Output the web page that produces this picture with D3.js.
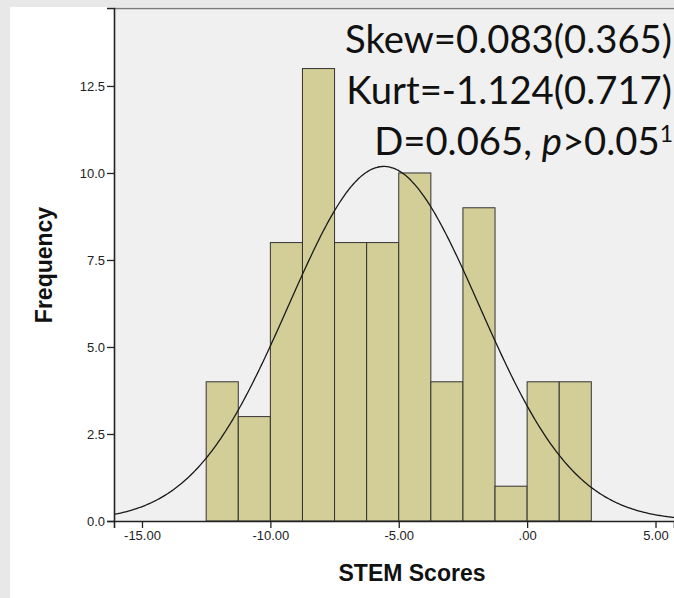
<!DOCTYPE html>
<html>
<head>
<meta charset="utf-8">
<script src="https://cdn.jsdelivr.net/npm/d3@7"></script>
<style>
  html, body { margin: 0; padding: 0; background: #e8e8e8; overflow: hidden; }
</style>
</head>
<body>
<div id="chart"></div>
<script>
// histogram bins (lower edges, width 1.25) and their counts
const binStarts = [-12.5, -11.25, -10, -8.75, -7.5, -6.25, -5, -3.75, -2.5, -1.25, 0, 1.25];
const binWidth = 1.25;
const counts = [4, 3, 8, 13, 8, 8, 10, 4, 9, 1, 4, 4];

// fitted normal curve
const mean = -5.58;
const sd = 3.72;

const xTicks = [-15, -10, -5, 0, 5];
const yTicks = [0, 2.5, 5, 7.5, 10, 12.5];
const statLines = ["Skew=0.083(0.365)", "Kurt=-1.124(0.717)"];

const width = 674, height = 598;
const plot = { left: 114, top: 8, right: 674, bottom: 521 };

const svg = d3.select("#chart").append("svg")
    .attr("width", width)
    .attr("height", height)
    .style("display", "block");

// page and panel backgrounds
svg.append("rect").attr("width", width).attr("height", height).attr("fill", "#e8e8e8");
svg.append("rect").attr("x", 10).attr("y", 7).attr("width", width - 10).attr("height", height - 7).attr("fill", "#ffffff");
svg.append("rect")
    .attr("x", plot.left).attr("y", plot.top)
    .attr("width", plot.right - plot.left).attr("height", plot.bottom - plot.top)
    .attr("fill", "#f0f0f0");
svg.append("line")
    .attr("x1", plot.left).attr("x2", plot.right)
    .attr("y1", plot.top + 0.5).attr("y2", plot.top + 0.5)
    .attr("stroke", "#7a7a7a").attr("stroke-width", 1.6);

const x = d3.scaleLinear().domain([-16.09, 5.72]).range([plot.left, plot.right]);
const y = d3.scaleLinear().domain([0, 14.74]).range([plot.bottom, plot.top]);

// bars
svg.append("g").selectAll("rect")
    .data(counts)
    .enter()
    .append("rect")
    .attr("x", (d, i) => x(binStarts[i]))
    .attr("y", d => y(d))
    .attr("width", (d, i) => x(binStarts[i] + binWidth) - x(binStarts[i]))
    .attr("height", d => y(0) - y(d))
    .attr("fill", "#d3ce97")
    .attr("stroke", "#333")
    .attr("stroke-width", 1);

// normal curve scaled to the histogram
const n = d3.sum(counts);
const amp = n * binWidth / (sd * Math.sqrt(2 * Math.PI));
const curveXs = d3.range(x.domain()[0], x.domain()[1] + 0.05, 0.05);
const line = d3.line()
    .x(d => x(d))
    .y(d => y(amp * Math.exp(-0.5 * Math.pow((d - mean) / sd, 2))))
    .curve(d3.curveBasis);
svg.append("path")
    .datum(curveXs)
    .attr("d", line)
    .attr("fill", "none")
    .attr("stroke", "#1a1a1a")
    .attr("stroke-width", 1.3);

// axes
const xAxis = d3.axisBottom(x)
    .tickValues(xTicks)
    .tickSizeOuter(0)
    .tickSize(7)
    .tickPadding(3)
    .tickFormat(d => d === 0 ? ".00" : d.toFixed(2));
const yAxis = d3.axisLeft(y)
    .tickValues(yTicks)
    .tickSizeOuter(0)
    .tickSize(7)
    .tickPadding(2)
    .tickFormat(d => d.toFixed(1));

const gx = svg.append("g").attr("transform", `translate(0,${plot.bottom})`).call(xAxis);
const gy = svg.append("g").attr("transform", `translate(${plot.left},0)`).call(yAxis);
[gx, gy].forEach(g => {
  g.select(".domain").attr("stroke", "#222").attr("stroke-width", 1.6);
  g.selectAll(".tick line").attr("stroke", "#222").attr("stroke-width", 1.3);
  g.selectAll(".tick text")
      .attr("fill", "#222")
      .style("font-family", "'Liberation Sans', Arial, sans-serif")
      .style("font-size", "13px");
});

// axis titles
svg.append("text")
    .attr("x", 412).attr("y", 581)
    .attr("text-anchor", "middle")
    .style("font-family", "'Liberation Sans', Arial, sans-serif")
    .style("font-weight", "bold")
    .style("font-size", "23px")
    .attr("fill", "#111")
    .text("STEM Scores");
svg.append("text")
    .attr("transform", "translate(52,265) rotate(-90)")
    .attr("text-anchor", "middle")
    .style("font-family", "'Liberation Sans', Arial, sans-serif")
    .style("font-weight", "bold")
    .style("font-size", "23px")
    .attr("fill", "#111")
    .text("Frequency");

// statistics annotation, right aligned
const stats = svg.append("g")
    .style("font-family", "Lato, 'Open Sans', sans-serif")
    .attr("fill", "#111")
    .attr("text-anchor", "end");
const baseSize = 40;
stats.style("font-size", baseSize + "px");
stats.selectAll("text.stat")
    .data(statLines)
    .enter()
    .append("text")
    .attr("class", "stat")
    .attr("x", 672)
    .attr("y", (d, i) => 53 + i * 51)
    .text(d => d);
const dLine = stats.append("text").attr("x", 673).attr("y", 155);
dLine.append("tspan").text("D=0.065, ");
dLine.append("tspan").style("font-style", "italic").text("p");
dLine.append("tspan").text(">0.05");
dLine.append("tspan").attr("dy", -13).style("font-size", "0.6em").text("1");

// fit the font so the first line spans the same width as in the original
const w0 = stats.select("text.stat").node().getComputedTextLength();
stats.style("font-size", (baseSize * 327 / w0) + "px");
</script>
</body>
</html>
